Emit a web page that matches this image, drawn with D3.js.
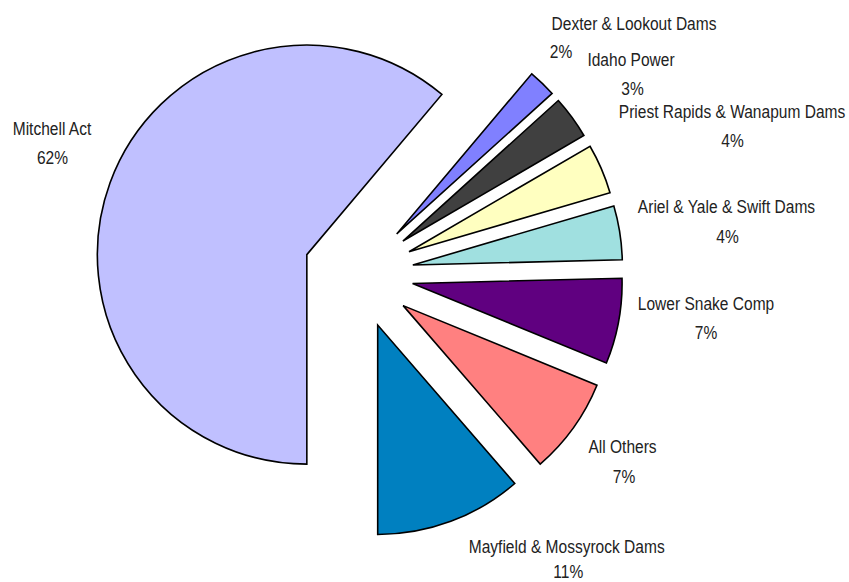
<!DOCTYPE html>
<html>
<head>
<meta charset="utf-8">
<script src="https://cdn.jsdelivr.net/npm/d3@7"></script>
<style>
  html, body { margin: 0; padding: 0; background: #fff; }
  svg { display: block; }
  .lbl { font-family: "Liberation Sans", Arial, sans-serif; font-size: 18.5px; fill: #222; }
</style>
</head>
<body>
<svg id="chart" width="849" height="582"></svg>
<script>
// ---- data ----
const categories = ["Mitchell Act", "Dexter & Lookout Dams", "Idaho Power", "Priest Rapids & Wanapum Dams",
                    "Ariel & Yale & Swift Dams", "Lower Snake Comp", "All Others", "Mayfield & Mossyrock Dams"];
const values = [61.15, 2.15, 3.3, 3.85, 4.15, 6.6, 7.45, 11.35];
const pctLabels = ["62%", "2%", "3%", "4%", "4%", "7%", "7%", "11%"];
const colors = ["#C0C0FF", "#8080FF", "#404040", "#FFFFC0", "#A0E0E0", "#600080", "#FF8080", "#0080C0"];

// ---- layout (label placement: [name x, name baseline, pct x, pct baseline]) ----
const labelLayout = [
  [52, 135, 52.5, 164],
  [634, 30, 561, 58],
  [631, 65.7, 632.5, 95],
  [732, 118, 732.5, 146.7],
  [726.5, 213.3, 727.5, 242.7],
  [706, 310, 706, 339.3],
  [622.5, 453.3, 624, 482.7],
  [566.7, 552.5, 568.3, 578]
];
const cx = 358.5, cy = 273.5, R = 209.5, explode = 55, squeeze = 0.84;

const svg = d3.select("#chart");
const pie = d3.pie().sort(null).value(d => d).startAngle(Math.PI).endAngle(3 * Math.PI);
const arcs = pie(values);
const arc = d3.arc().innerRadius(0).outerRadius(R);

const g = svg.append("g").attr("transform", `translate(${cx},${cy})`);
g.selectAll("path.slice")
  .data(arcs)
  .enter().append("path")
  .attr("class", "slice")
  .attr("d", arc)
  .attr("transform", d => {
    const m = (d.startAngle + d.endAngle) / 2;
    return `translate(${explode * Math.sin(m)},${-explode * Math.cos(m)})`;
  })
  .attr("fill", (d, i) => colors[i])
  .attr("stroke", "#000")
  .attr("stroke-width", 1.6)
  .attr("stroke-linejoin", "miter");

const lg = svg.append("g");
function addText(x, y, s) {
  lg.append("text").attr("class", "lbl")
    .attr("transform", `translate(${x},${y}) scale(${squeeze},1)`)
    .attr("text-anchor", "middle").text(s);
}
categories.forEach((c, i) => {
  const L = labelLayout[i];
  addText(L[0], L[1], c);
  addText(L[2], L[3], pctLabels[i]);
});
</script>
</body>
</html>
